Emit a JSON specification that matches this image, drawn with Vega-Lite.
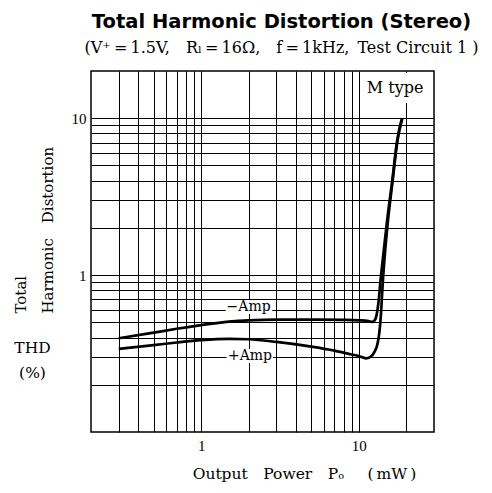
{
  "$schema": "https://vega.github.io/schema/vega-lite/v6.json",
  "width": 343,
  "height": 361,
  "autosize": "none",
  "padding": {"left": 91, "top": 71, "right": 58, "bottom": 61},
  "background": "white",
  "title": {
    "text": "Total Harmonic Distortion (Stereo)",
    "subtitle": "(V⁺\u2009=\u20091.5V,\u2003Rₗ\u2009=\u200916Ω,\u2003f\u2009=\u20091kHz,\u2002Test Circuit 1 )",
    "font": "DejaVu Sans",
    "fontSize": 19.5,
    "fontWeight": "bold",
    "color": "black",
    "subtitleFont": "DejaVu Serif",
    "subtitleFontSize": 16,
    "subtitleColor": "black",
    "anchor": "middle",
    "frame": "group",
    "dx": 19,
    "offset": 14,
    "subtitlePadding": 8
  },
  "config": {
    "view": {"stroke": "black", "strokeWidth": 1.5},
    "axis": {
      "gridColor": "black",
      "gridWidth": 1,
      "gridOpacity": 1,
      "domain": false,
      "ticks": false,
      "labelColor": "black",
      "titleColor": "black"
    }
  },
  "datasets": {
    "curves": [
      {"series": "-Amp", "P": 0.3, "THD": 0.396},
      {"series": "-Amp", "P": 0.5, "THD": 0.43},
      {"series": "-Amp", "P": 0.7, "THD": 0.455},
      {"series": "-Amp", "P": 1.0, "THD": 0.48},
      {"series": "-Amp", "P": 1.5, "THD": 0.505},
      {"series": "-Amp", "P": 2.0, "THD": 0.515},
      {"series": "-Amp", "P": 3.0, "THD": 0.52},
      {"series": "-Amp", "P": 5.0, "THD": 0.52},
      {"series": "-Amp", "P": 8.0, "THD": 0.518},
      {"series": "-Amp", "P": 10.0, "THD": 0.515},
      {"series": "-Amp", "P": 11.5, "THD": 0.51},
      {"series": "-Amp", "P": 12.2, "THD": 0.503},
      {"series": "-Amp", "P": 12.8, "THD": 0.53},
      {"series": "-Amp", "P": 13.1, "THD": 0.59},
      {"series": "-Amp", "P": 13.4, "THD": 0.7},
      {"series": "-Amp", "P": 13.7, "THD": 0.9},
      {"series": "-Amp", "P": 14.4, "THD": 1.43},
      {"series": "-Amp", "P": 15.1, "THD": 2.2},
      {"series": "-Amp", "P": 16.3, "THD": 4.0},
      {"series": "-Amp", "P": 17.5, "THD": 7.2},
      {"series": "-Amp", "P": 18.8, "THD": 10.0},
      {"series": "+Amp", "P": 0.3, "THD": 0.339},
      {"series": "+Amp", "P": 0.5, "THD": 0.358},
      {"series": "+Amp", "P": 0.7, "THD": 0.372},
      {"series": "+Amp", "P": 1.0, "THD": 0.385},
      {"series": "+Amp", "P": 1.5, "THD": 0.392},
      {"series": "+Amp", "P": 2.0, "THD": 0.39},
      {"series": "+Amp", "P": 3.0, "THD": 0.375},
      {"series": "+Amp", "P": 5.0, "THD": 0.35},
      {"series": "+Amp", "P": 7.0, "THD": 0.33},
      {"series": "+Amp", "P": 9.0, "THD": 0.312},
      {"series": "+Amp", "P": 10.0, "THD": 0.305},
      {"series": "+Amp", "P": 11.1, "THD": 0.295},
      {"series": "+Amp", "P": 11.8, "THD": 0.3},
      {"series": "+Amp", "P": 12.6, "THD": 0.325},
      {"series": "+Amp", "P": 13.1, "THD": 0.36},
      {"series": "+Amp", "P": 13.5, "THD": 0.43},
      {"series": "+Amp", "P": 13.8, "THD": 0.55},
      {"series": "+Amp", "P": 14.2, "THD": 0.9},
      {"series": "+Amp", "P": 14.7, "THD": 1.43},
      {"series": "+Amp", "P": 15.3, "THD": 2.2},
      {"series": "+Amp", "P": 16.4, "THD": 4.0},
      {"series": "+Amp", "P": 17.6, "THD": 7.2},
      {"series": "+Amp", "P": 18.9, "THD": 10.0}
    ],
    "labels": [
      {"label": "−Amp", "P": 2.0, "THD": 0.629, "P0": 1.43, "P1": 2.82, "T0": 0.565, "T1": 0.694},
      {"label": "+Amp", "P": 2.04, "THD": 0.305, "P0": 1.45, "P1": 2.85, "T0": 0.275, "T1": 0.338},
      {"label": "M type", "P": 17, "THD": 15.6, "P0": 10.8, "P1": 28.3, "T0": 12.5, "T1": 19.4}
    ]
  },
  "resolve": {"axis": {"y": "independent"}},
  "layer": [
    {
      "data": {"name": "curves"},
      "mark": {"type": "line", "color": "black", "strokeWidth": 2.7, "interpolate": "monotone"},
      "encoding": {
        "x": {
          "field": "P",
          "type": "quantitative",
          "scale": {"type": "log", "domain": [0.2, 30], "nice": false},
          "axis": {
            "values": [0.3, 0.4, 0.5, 0.6, 0.7, 0.8, 0.9, 1, 2, 3, 4, 5, 6, 7, 8, 9, 10, 20],
            "labelExpr": "datum.value == 1 ? '1' : datum.value == 10 ? '10' : ''",
            "labelFont": "Liberation Serif",
            "labelFontSize": 15,
            "labelPadding": 6,
            "labelFlush": false,
            "labelOverlap": false,
            "title": "Output\u2003Power\u2003Pₒ\u2003\u2002(\u2009mW\u2009)",
            "titleFont": "DejaVu Serif",
            "titleFontSize": 15.5,
            "titleFontWeight": "normal",
            "titleAlign": "center",
            "titleBaseline": "alphabetic",
            "titleX": 213,
            "titleY": 46
          }
        },
        "y": {
          "field": "THD",
          "type": "quantitative",
          "scale": {"type": "log", "domain": [0.1, 20], "nice": false},
          "axis": {
            "orient": "left",
            "values": [0.2, 0.3, 0.4, 0.5, 0.6, 0.7, 0.8, 0.9, 1, 2, 3, 4, 5, 6, 7, 8, 9, 10],
            "labelExpr": "datum.value == 1 ? '1' : datum.value == 10 ? '10' : ''",
            "labelFont": "Liberation Serif",
            "labelFontSize": 15,
            "labelPadding": 5,
            "labelFlush": false,
            "labelOverlap": false,
            "title": ["Total", "Harmonic\u2003Distortion"],
            "titleFont": "DejaVu Serif",
            "titleFontSize": 15,
            "titleFontWeight": "normal",
            "titleAngle": -90,
            "titleAlign": "left",
            "titleBaseline": "alphabetic",
            "titleLineHeight": 27,
            "titleX": -66,
            "titleY": 242
          }
        },
        "detail": {"field": "series"}
      }
    },
    {
      "data": {"name": "labels"},
      "mark": {"type": "rect", "color": "white"},
      "encoding": {
        "x": {"field": "P0", "type": "quantitative"},
        "x2": {"field": "P1"},
        "y": {"field": "T0", "type": "quantitative", "axis": null},
        "y2": {"field": "T1"}
      }
    },
    {
      "data": {"name": "labels"},
      "transform": [{"filter": "datum.label != 'M type'"}],
      "mark": {"type": "text", "font": "DejaVu Serif", "fontSize": 14, "color": "black", "align": "center", "baseline": "middle"},
      "encoding": {
        "x": {"field": "P", "type": "quantitative"},
        "y": {
          "field": "THD",
          "type": "quantitative",
          "axis": {
            "orient": "left",
            "labels": false,
            "grid": false,
            "ticks": false,
            "domain": false,
            "title": ["THD", "(%)"],
            "titleFont": "DejaVu Serif",
            "titleFontSize": 15.5,
            "titleFontWeight": "normal",
            "titleAngle": 0,
            "titleAlign": "center",
            "titleBaseline": "alphabetic",
            "titleLineHeight": 25,
            "titleX": -59,
            "titleY": 281
          }
        },
        "text": {"field": "label"}
      }
    },
    {
      "data": {"name": "labels"},
      "transform": [{"filter": "datum.label == 'M type'"}],
      "mark": {"type": "text", "font": "DejaVu Serif", "fontSize": 16, "color": "black", "align": "center", "baseline": "middle"},
      "encoding": {
        "x": {"field": "P", "type": "quantitative"},
        "y": {"field": "THD", "type": "quantitative", "axis": null},
        "text": {"field": "label"}
      }
    }
  ]
}
